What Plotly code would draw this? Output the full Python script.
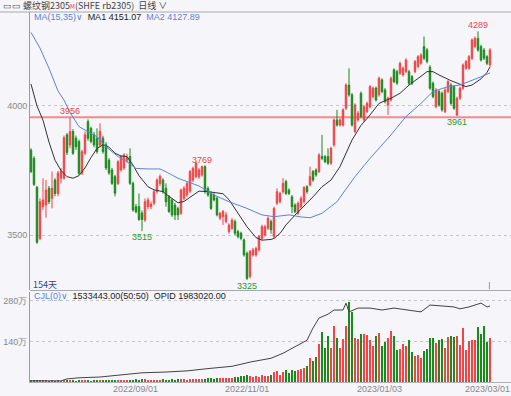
import plotly.graph_objects as go

# ---------------- data ----------------
opens = [3829, 3797, 3685, 3487, 3610, 3616, 3681, 3642, 3713, 3661,
         3720, 3720, 3888, 3849, 3901, 3875, 3862, 3739, 3817, 3939,
         3913, 3888, 3875, 3849, 3875, 3850, 3790, 3752, 3726, 3700,
         3752, 3760, 3790, 3804, 3700, 3610, 3610, 3585, 3558, 3610,
         3610, 3623, 3668, 3700, 3713, 3681, 3648, 3636, 3616, 3603,
         3584, 3642, 3655, 3670, 3713, 3726, 3726, 3733, 3765, 3681,
         3661, 3655, 3642, 3565, 3571, 3552, 3513, 3526, 3552, 3513,
         3507, 3481, 3429, 3339, 3423, 3423, 3442, 3487, 3500, 3526,
         3552, 3494, 3623, 3629, 3668, 3707, 3674, 3648, 3616, 3584,
         3610, 3629, 3687, 3694, 3746, 3752, 3746, 3804, 3804, 3804,
         3778, 3849, 3946, 3926, 3926, 3991, 4081, 4043, 3901, 3946,
         4049, 3946, 3978, 3997, 4036, 4069, 4043, 4101, 4062, 4004,
         4023, 4140, 4133, 4127, 4120, 4133, 4133, 4114, 4133, 4153,
         4165, 4230, 4217, 4150, 4088, 3997, 4056, 4049, 3978, 4056,
         4081, 4075, 3965, 4030, 4069, 4146, 4146, 4185, 4230, 4262,
         4230, 4217, 4191, 4159]
highs = [3836, 3805, 3690, 3642, 3720, 3713, 3690, 3746, 3720, 3748,
         3760, 3885, 3895, 3956, 3910, 3885, 3870, 3830, 3901, 3948,
         3920, 3900, 3913, 3933, 3885, 3860, 3798, 3760, 3733, 3790,
         3810, 3817, 3815, 3836, 3707, 3620, 3661, 3595, 3642, 3645,
         3630, 3674, 3720, 3735, 3720, 3700, 3655, 3642, 3625, 3610,
         3680, 3690, 3707, 3752, 3765, 3785, 3760, 3769, 3770, 3688,
         3668, 3662, 3650, 3590, 3597, 3590, 3545, 3565, 3560, 3520,
         3513, 3487, 3436, 3442, 3450, 3455, 3500, 3540, 3540, 3572,
         3560, 3610, 3681, 3668, 3720, 3714, 3681, 3655, 3623, 3630,
         3650, 3690, 3694, 3765, 3752, 3758, 3817, 3888, 3810, 3836,
         3842, 3952, 3985, 3952, 3991, 4088, 4146, 4050, 4010, 3980,
         4056, 4004, 4017, 4081, 4075, 4075, 4114, 4107, 4069, 4036,
         4114, 4146, 4140, 4172, 4153, 4185, 4140, 4120, 4178, 4197,
         4204, 4269, 4224, 4158, 4095, 4069, 4062, 4056, 4069, 4101,
         4088, 4081, 4036, 4075, 4165, 4178, 4197, 4262, 4269, 4289,
         4237, 4224, 4197, 4224]
lows = [3740, 3690, 3466, 3480, 3597, 3567, 3620, 3603, 3650, 3650,
        3700, 3715, 3810, 3836, 3810, 3830, 3733, 3733, 3810, 3865,
        3855, 3840, 3815, 3840, 3815, 3752, 3733, 3694, 3650, 3694,
        3746, 3752, 3780, 3694, 3590, 3584, 3555, 3515, 3550, 3600,
        3600, 3615, 3660, 3690, 3660, 3610, 3585, 3570, 3558, 3558,
        3578, 3635, 3648, 3662, 3705, 3720, 3718, 3726, 3660, 3648,
        3597, 3630, 3572, 3558, 3539, 3545, 3505, 3520, 3500, 3487,
        3480, 3416, 3325, 3332, 3416, 3416, 3436, 3480, 3494, 3520,
        3505, 3487, 3616, 3622, 3660, 3655, 3655, 3584, 3584, 3578,
        3603, 3622, 3660, 3688, 3706, 3726, 3740, 3790, 3778, 3771,
        3771, 3842, 3920, 3920, 3920, 3985, 4036, 3920, 3895, 3939,
        3952, 3939, 3972, 3991, 4030, 4017, 4036, 4049, 4010, 3965,
        4017, 4088, 4081, 4120, 4114, 4127, 4081, 4081, 4127, 4146,
        4159, 4178, 4165, 4062, 4030, 3991, 3997, 3978, 3972, 4049,
        4004, 3985, 3961, 4023, 4062, 4140, 4140, 4178, 4224, 4210,
        4172, 4178, 4158, 4152]
closes = [3746, 3696, 3472, 3629, 3636, 3674, 3629, 3681, 3661, 3740,
          3746, 3877, 3820, 3901, 3817, 3842, 3739, 3823, 3888, 3875,
          3862, 3849, 3823, 3901, 3823, 3760, 3740, 3700, 3662, 3784,
          3804, 3810, 3800, 3700, 3597, 3590, 3560, 3560, 3629, 3636,
          3620, 3668, 3713, 3727, 3668, 3629, 3591, 3578, 3578, 3578,
          3674, 3681, 3700, 3746, 3758, 3778, 3752, 3765, 3668, 3655,
          3603, 3636, 3578, 3584, 3591, 3578, 3539, 3558, 3507, 3494,
          3487, 3423, 3332, 3436, 3442, 3448, 3494, 3532, 3532, 3565,
          3520, 3603, 3668, 3661, 3700, 3661, 3661, 3610, 3591, 3623,
          3642, 3684, 3668, 3726, 3713, 3733, 3810, 3797, 3784, 3778,
          3836, 3946, 3926, 3946, 3985, 4081, 4043, 3926, 4004, 3972,
          3959, 3997, 4010, 4075, 4069, 4023, 4107, 4056, 4017, 4030,
          4107, 4094, 4088, 4165, 4146, 4178, 4088, 4088, 4172, 4191,
          4197, 4185, 4172, 4069, 4036, 4062, 4004, 3985, 4062, 4094,
          4010, 3991, 4030, 4069, 4159, 4172, 4191, 4256, 4262, 4217,
          4178, 4185, 4165, 4217]
# volume, in 万 (10k lots)
volumes = [7, 6, 8, 5, 4, 4, 3, 4, 3, 4, 3, 5, 4,
           5, 4, 3, 4, 4, 5, 4, 3, 4, 4, 5, 4, 6, 5, 6, 7, 5, 5,
           6, 6, 7, 8, 9, 8, 10, 9, 8, 7, 8, 7, 8, 9, 7, 8, 9, 8, 9, 10,
           9, 8, 10, 10, 11, 12, 11, 12, 14, 13, 12, 13, 14, 15, 14, 13, 15, 16, 17, 20, 22, 25,
           20, 19, 20, 19, 25.5, 19.7, 19.7, 23.2, 34.7, 37.0,
           23.2, 34.7, 42.8, 31.2, 42.8, 38.1, 40.4, 46.2, 49.6, 55.4,
           84.3, 72.8, 86.6, 132.8, 173.1, 118.9, 158.1, 116.6, 192.7, 153.5,
           117.8, 150.1, 192.7, 276.9, 242.3, 153.5, 147.8, 165.0, 166.2, 163.9,
           144.3, 125.8, 159.3, 169.7, 123.5, 138.5, 153.5, 175.4, 159.3, 109.7,
           113.1, 130.4, 124.7, 144.3, 103.9, 88.9, 92.4, 83.1, 106.2, 113.1,
           151.2, 153.5, 135.1, 146.6, 148.9, 118.9, 155.8, 158.1, 155.8, 159.3,
           127.0, 188.1, 112.0, 140.8, 144.3, 146.6, 189.3, 167.4, 192.7, 138.5,
           153.3]
# open interest (万), read at sample bars
oi_idx = [0, 10, 12, 16, 23, 30, 37, 45, 52, 59, 67, 72, 73, 80, 84, 87, 92, 94,
          96, 99, 101, 104, 105, 106, 109, 113, 117, 121, 125, 130, 133, 137,
          141, 143, 146, 150, 152, 153]
oi_val = [3, 3, 8, 11, 13, 18, 24, 26, 29, 35, 41, 50, 52, 62, 75, 88, 109, 141,
          167, 177, 188, 188, 206, 183, 193, 193, 188, 193, 188, 183, 201, 198,
          196, 191, 196, 206, 196, 198.3]
# moving averages
ma1_idx = [0, 2, 4, 6, 8, 10, 12, 14, 16, 18, 20, 22, 24, 26, 28, 30, 32, 34, 36, 39,
           41, 44, 46, 49, 51, 54, 56, 59, 61, 64, 66, 69, 72, 75, 77, 80, 81, 83, 85, 88,
           91, 94, 97, 100, 103, 105, 107, 110, 113, 116, 120, 123, 126, 130, 132, 134, 136,
           140, 143, 145, 147, 150, 152, 153]
ma1_val = [4085, 4000, 3945, 3860, 3790, 3750, 3726, 3720, 3730, 3760, 3800, 3835, 3850,
           3840, 3817, 3806, 3804, 3771, 3730, 3687, 3675, 3668, 3650, 3625, 3630, 3655,
           3670, 3668, 3664, 3660, 3637, 3584, 3532, 3490, 3480, 3483, 3487, 3506, 3539,
           3577, 3612, 3648, 3687, 3713, 3765, 3816, 3868, 3925, 3965, 4010, 4030, 4049,
           4081, 4115, 4133, 4133, 4120, 4098, 4084, 4075, 4081, 4105, 4130, 4151]
ma2_idx = [0, 3, 6, 9, 11, 13, 16, 19, 22, 25, 29, 32, 35, 39, 43, 45, 49, 52, 56, 61,
           66, 72, 77, 81, 86, 90, 93, 97, 102, 105, 108, 113, 120, 125, 130, 134, 139,
           143, 146, 150, 153]
ma2_val = [4285, 4224, 4146, 4058, 4023, 3975, 3920, 3900, 3881, 3842, 3804, 3784, 3758,
           3756, 3756, 3745, 3720, 3707, 3690, 3655, 3629, 3603, 3578, 3571, 3578, 3570,
           3567, 3584, 3629, 3678, 3726, 3797, 3888, 3959, 4010, 4056, 4075, 4081, 4094,
           4113, 4128]
tick_idx = [35, 72, 116, 152]
tick_labels = ["2022/09/01", "2022/11/01", "2023/01/03", "2023/03/01"]
price_ticks = [3500, 4000]
vol_ticks = [140, 280]
vol_tick_labels = ["140万", "280万"]
level_line = 3956
marks = [(13, "high", 3956), (37, "low", 3515), (57, "high", 3769),
         (72, "low", 3325), (142, "low", 3961), (149, "high", 4289)]

# ---------------- styling ----------------
BG = "#f5f5fa"
RED = "#ee4545"
GREEN = "#1a8a1a"
BLUE = "#5b82e0"
FONT = "Liberation Sans, DejaVu Sans, sans-serif"
CJK = "Noto Sans CJK SC, sans-serif"

W, H = 511, 396
PL, PT, PR, PB = 30, 12, 0, 14
PW, PH = W - PL - PR, H - PT - PB


def xp(px):
    return (px - PL) / PW


def yp(py):
    return (PT + PH - py) / PH


n = len(closes)
xs = list(range(n))
vol_colors = [RED if c >= o else GREEN for o, c in zip(opens, closes)]

fig = go.Figure()
fig.add_trace(go.Candlestick(
    x=xs, open=opens, high=highs, low=lows, close=closes,
    increasing=dict(line=dict(color=RED, width=1), fillcolor=RED),
    decreasing=dict(line=dict(color=GREEN, width=1), fillcolor=GREEN),
    whiskerwidth=0, xaxis="x", yaxis="y", hoverinfo="skip", showlegend=False))
fig.add_trace(go.Scatter(x=ma1_idx, y=ma1_val, mode="lines",
                         line=dict(color="#333333", width=1), yaxis="y", showlegend=False))
fig.add_trace(go.Scatter(x=ma2_idx, y=ma2_val, mode="lines",
                         line=dict(color=BLUE, width=1), yaxis="y", showlegend=False))
fig.add_trace(go.Bar(x=xs, y=volumes, marker=dict(color=vol_colors, line=dict(width=0)),
                     width=0.62, yaxis="y2", showlegend=False))
fig.add_trace(go.Scatter(x=oi_idx, y=oi_val, mode="lines",
                         line=dict(color="#444444", width=1), yaxis="y3", showlegend=False))

price_dom = [yp(290), 1]
vol_dom = [0, yp(292)]

fig.update_layout(
    width=W, height=H,
    margin=dict(l=PL, r=PR, t=PT, b=PB, pad=0, autoexpand=False),
    paper_bgcolor=BG, plot_bgcolor=BG,
    font=dict(family=FONT, size=9, color="#888"),
    bargap=0,
    xaxis=dict(range=[-0.33, 160], anchor="y2", tickvals=tick_idx, ticktext=[""] * len(tick_idx),
               showgrid=False, zeroline=False, ticks="", showline=True, linecolor="#b0b0b8",
               automargin=False, rangeslider=dict(visible=False)),
    yaxis=dict(domain=price_dom, range=[3287, 4364], tickvals=price_ticks,
               showgrid=True, gridcolor="#c4c4cc", griddash="3px,3px", gridwidth=1,
               zeroline=False, showline=True, linecolor="#9a9aa2", ticks="", automargin=False,
               tickfont=dict(size=9, color="#888")),
    yaxis2=dict(domain=vol_dom, range=[0, 311], tickvals=vol_ticks, ticktext=vol_tick_labels,
                showgrid=True, gridcolor="#c4c4cc", griddash="3px,3px", gridwidth=1,
                zeroline=False, showline=True, linecolor="#9a9aa2", ticks="", automargin=False,
                tickfont=dict(size=9, color="#888")),
    yaxis3=dict(domain=vol_dom, range=[0, 235], overlaying="y2", visible=False),
)

shapes = [
    dict(type="line", xref="paper", yref="y", x0=0, x1=1, y0=level_line, y1=level_line,
         line=dict(color="#f08c8c", width=2), layer="below"),
    dict(type="line", xref="paper", yref="paper", x0=xp(0), x1=1, y0=1, y1=1,
         line=dict(color="#a8a8b0", width=1)),
    dict(type="line", xref="paper", yref="paper", x0=0, x1=1, y0=yp(290.5), y1=yp(290.5),
         line=dict(color="#a8a8b0", width=1)),
    dict(type="line", xref="x", yref="y", x0=152.8, x1=152.8, y0=3290, y1=3318,
         line=dict(color="#999", width=1)),
]
fig.update_layout(shapes=shapes)

ann = []
for i, kind, val in marks:
    ann.append(dict(x=i, y=val, xref="x", yref="y", text=str(val), showarrow=False,
                    yanchor="bottom" if kind == "high" else "top",
                    yshift=-1 if kind == "high" else 1,
                    font=dict(size=9, color=RED if kind == "high" else "#2e9a2e", family=FONT)))
# date tick labels of the shared time axis
for i, lab in zip(tick_idx, tick_labels):
    ann.append(dict(x=i, y=yp(389), xref="x", yref="paper", text=lab, showarrow=False,
                    xanchor="center", yanchor="middle", font=dict(size=9, color="#888", family=FONT)))

S = "\u00a0"
ann.append(dict(xref="paper", yref="paper", x=xp(1), y=yp(6), xanchor="left", yanchor="middle",
                showarrow=False,
                text=('<span style="color:#555">▭▭</span>' + S +
                      '<span style="color:#444">螺纹钢2305</span><span style="color:#e33;font-size:6px">M</span>'
                      '<span style="color:#444">(SHFE rb2305)' + S * 2 + '日线 ∨</span>'),
                font=dict(size=9, family=CJK, color="#444")))
ann.append(dict(xref="paper", yref="paper", x=xp(32), y=yp(17), xanchor="left", yanchor="middle",
                showarrow=False,
                text=(f'<span style="color:{BLUE}">MA(15,35)∨</span>' + S * 2 +
                      '<span style="color:#222">MA1 4151.07</span>' + S * 2 +
                      f'<span style="color:{BLUE}">MA2 4127.89</span>'),
                font=dict(size=9, family=FONT)))
ann.append(dict(xref="paper", yref="paper", x=xp(31), y=yp(284), xanchor="left", yanchor="middle",
                showarrow=False, text="154天", font=dict(size=9, family=CJK, color="#3c3c9c")))
ann.append(dict(xref="paper", yref="paper", x=xp(32), y=yp(296), xanchor="left", yanchor="middle",
                showarrow=False,
                text=(f'<span style="color:{BLUE}">CJL(0)∨</span>' + S * 2 +
                      '<span style="color:#222">1533443.00(50:50)' + S * 2 + 'OPID 1983020.00</span>'),
                font=dict(size=9, family=FONT)))
fig.update_layout(annotations=ann)

fig.write_html("out.html", config={"displayModeBar": False},
               post_script="document.body.style.margin='0px';document.body.style.overflow='hidden';")
